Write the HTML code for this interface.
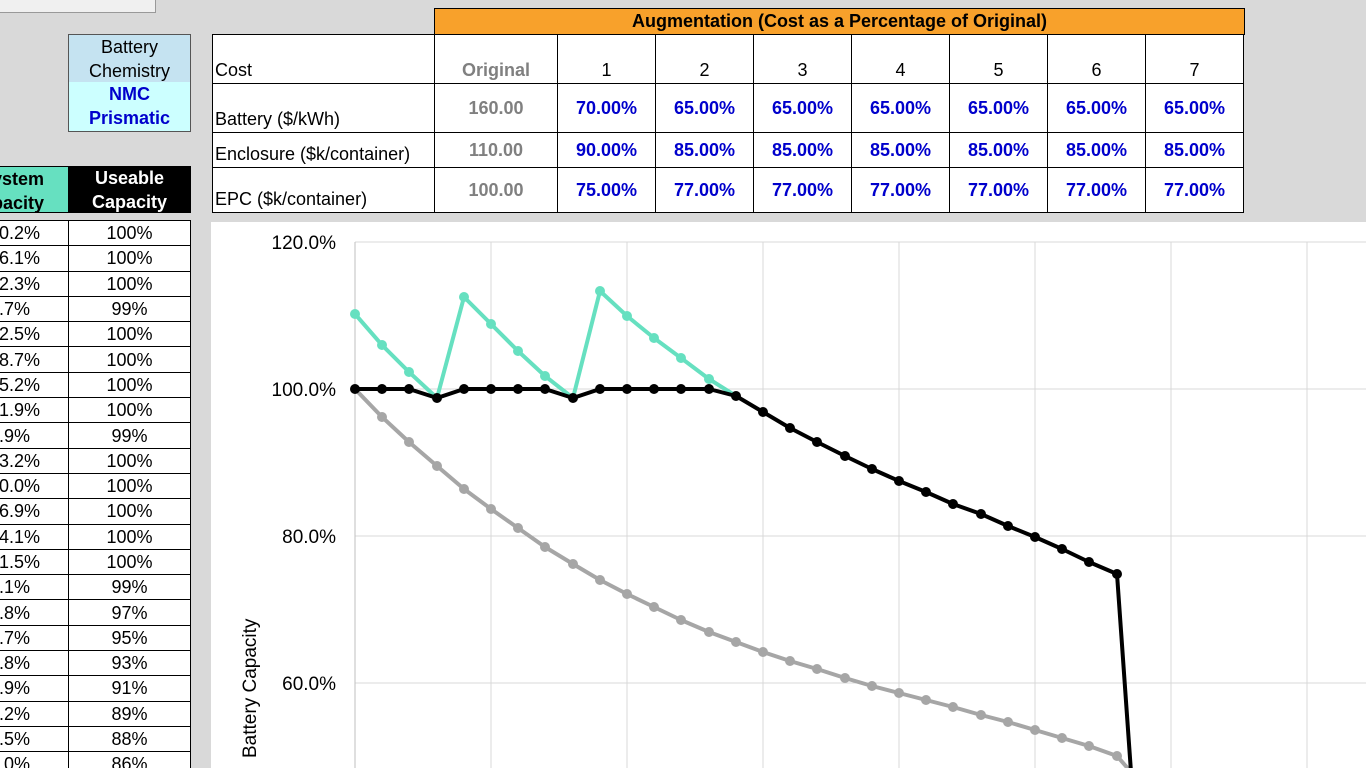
<!DOCTYPE html>
<html><head><meta charset="utf-8"><style>
html,body{margin:0;width:1366px;height:768px;overflow:hidden;}
body{background:#d9d9d9;position:relative;font-family:"Liberation Sans",Arial,sans-serif;}
.a{position:absolute;box-sizing:border-box;}
table{border-collapse:collapse;position:absolute;}
#lt{left:-2px;top:220px;background:#fff;}
#lt td{border:1px solid #000;height:24.3px;padding:0;font-size:18px;line-height:20px;}
#lt td.c1{width:69px;text-align:left;}
#lt td.c2{width:121px;text-align:center;}
#tt{left:212px;top:34px;background:#fff;table-layout:fixed;width:1032px;}
#tt td{border:1px solid #000;padding:0 0 2px 2px;font-size:18px;vertical-align:bottom;overflow:hidden;white-space:nowrap;}
#tt td.n{text-align:center;color:#0000cc;font-weight:bold;vertical-align:middle;padding:0;}
#tt td.o{text-align:center;color:#808080;font-weight:bold;vertical-align:middle;padding:0;}
</style></head><body>
<div class="a" style="left:-2px;top:-2px;width:158px;height:15px;background:#f0f0f0;border:1px solid #999;"></div>
<div class="a" style="left:68px;top:34px;width:123px;height:49px;background:#c5e3f1;border:1px solid #555;text-align:center;font-size:18px;line-height:24px;">Battery<br>Chemistry</div>
<div class="a" style="left:68px;top:82px;width:123px;height:50px;background:#ccffff;border:1px solid #555;border-top:none;text-align:center;font-size:18px;line-height:24px;color:#0000cc;font-weight:bold;">NMC<br>Prismatic</div>
<div class="a" style="left:-60px;top:166px;width:129px;height:47px;background:#66e0c0;border:1px solid #000;text-align:right;font-size:18px;font-weight:bold;line-height:24px;padding-right:24px;">System<br>Capacity</div>
<div class="a" style="left:68px;top:166px;width:123px;height:47px;background:#000;color:#fff;text-align:center;font-size:18px;font-weight:bold;line-height:24px;">Useable<br>Capacity</div>
<table id="lt">
<tr><td class="c1">0.2%</td><td class="c2">100%</td></tr>
<tr><td class="c1">6.1%</td><td class="c2">100%</td></tr>
<tr><td class="c1">2.3%</td><td class="c2">100%</td></tr>
<tr><td class="c1">.7%</td><td class="c2">99%</td></tr>
<tr><td class="c1">2.5%</td><td class="c2">100%</td></tr>
<tr><td class="c1">8.7%</td><td class="c2">100%</td></tr>
<tr><td class="c1">5.2%</td><td class="c2">100%</td></tr>
<tr><td class="c1">1.9%</td><td class="c2">100%</td></tr>
<tr><td class="c1">.9%</td><td class="c2">99%</td></tr>
<tr><td class="c1">3.2%</td><td class="c2">100%</td></tr>
<tr><td class="c1">0.0%</td><td class="c2">100%</td></tr>
<tr><td class="c1">6.9%</td><td class="c2">100%</td></tr>
<tr><td class="c1">4.1%</td><td class="c2">100%</td></tr>
<tr><td class="c1">1.5%</td><td class="c2">100%</td></tr>
<tr><td class="c1">.1%</td><td class="c2">99%</td></tr>
<tr><td class="c1">.8%</td><td class="c2">97%</td></tr>
<tr><td class="c1">.7%</td><td class="c2">95%</td></tr>
<tr><td class="c1">.8%</td><td class="c2">93%</td></tr>
<tr><td class="c1">.9%</td><td class="c2">91%</td></tr>
<tr><td class="c1">.2%</td><td class="c2">89%</td></tr>
<tr><td class="c1">.5%</td><td class="c2">88%</td></tr>
<tr><td class="c1">.0%</td><td class="c2">86%</td></tr>
</table>
<div class="a" style="left:434px;top:8px;width:811px;height:27px;background:#f8a12b;border:1px solid #000;text-align:center;font-weight:bold;font-size:18px;line-height:25px;">Augmentation (Cost as a Percentage of Original)</div>
<table id="tt">
<colgroup><col style="width:222px"><col style="width:123px"><col style="width:98px"><col style="width:98px"><col style="width:98px"><col style="width:98px"><col style="width:98px"><col style="width:98px"><col style="width:98px"></colgroup>
<tr style="height:49px"><td>Cost</td><td class="o" style="vertical-align:bottom;padding-bottom:2px">Original</td><td class="n" style="color:#000;font-weight:normal;vertical-align:bottom;padding-bottom:2px">1</td><td class="n" style="color:#000;font-weight:normal;vertical-align:bottom;padding-bottom:2px">2</td><td class="n" style="color:#000;font-weight:normal;vertical-align:bottom;padding-bottom:2px">3</td><td class="n" style="color:#000;font-weight:normal;vertical-align:bottom;padding-bottom:2px">4</td><td class="n" style="color:#000;font-weight:normal;vertical-align:bottom;padding-bottom:2px">5</td><td class="n" style="color:#000;font-weight:normal;vertical-align:bottom;padding-bottom:2px">6</td><td class="n" style="color:#000;font-weight:normal;vertical-align:bottom;padding-bottom:2px">7</td></tr>
<tr style="height:49px"><td>Battery ($/kWh)</td><td class="o">160.00</td><td class="n">70.00%</td><td class="n">65.00%</td><td class="n">65.00%</td><td class="n">65.00%</td><td class="n">65.00%</td><td class="n">65.00%</td><td class="n">65.00%</td></tr>
<tr style="height:35px"><td>Enclosure ($k/container)</td><td class="o">110.00</td><td class="n">90.00%</td><td class="n">85.00%</td><td class="n">85.00%</td><td class="n">85.00%</td><td class="n">85.00%</td><td class="n">85.00%</td><td class="n">85.00%</td></tr>
<tr style="height:45px"><td>EPC ($k/container)</td><td class="o">100.00</td><td class="n">75.00%</td><td class="n">77.00%</td><td class="n">77.00%</td><td class="n">77.00%</td><td class="n">77.00%</td><td class="n">77.00%</td><td class="n">77.00%</td></tr>
</table>
<svg class="a" style="left:0;top:0" width="1366" height="768">
<rect x="211" y="222" width="1155" height="546" fill="#fff"/>
<g stroke="#d9d9d9" stroke-width="1">
<line x1="355" y1="242" x2="1366" y2="242"/><line x1="355" y1="389" x2="1366" y2="389"/><line x1="355" y1="536" x2="1366" y2="536"/><line x1="355" y1="683" x2="1366" y2="683"/>
<line x1="491" y1="242" x2="491" y2="768"/><line x1="627" y1="242" x2="627" y2="768"/><line x1="763" y1="242" x2="763" y2="768"/><line x1="899" y1="242" x2="899" y2="768"/><line x1="1035" y1="242" x2="1035" y2="768"/><line x1="1171" y1="242" x2="1171" y2="768"/><line x1="1307" y1="242" x2="1307" y2="768"/>
</g>
<line x1="355" y1="242" x2="355" y2="768" stroke="#bfbfbf"/>
<g font-size="19" text-anchor="end" fill="#000">
<text x="336" y="249">120.0%</text><text x="336" y="396">100.0%</text><text x="336" y="543">80.0%</text><text x="336" y="690">60.0%</text>
</g>
<text transform="translate(256,758) rotate(-90)" font-size="19">Battery Capacity</text>
<g fill="none" stroke-width="4" stroke-linejoin="round">
<polyline stroke="#a6a6a6" points="355,389 382,417 409,442 437,466 464,489 491,509 518,528 545,547 573,564 600,580 627,594 654,607 681,620 709,632 736,642 763,652 790,661 817,669 845,678 872,686 899,693 926,700 953,707 981,715 1008,722 1035,730 1062,738 1089,746 1117,756 1131,772"/>
<polyline stroke="#66e0c0" points="355,314 382,345 409,372 437,398 464,297 491,324 518,351 545,376 573,398 600,291 627,316 654,338 681,358 709,379 736,396"/>
<polyline stroke="#000" points="355,389 382,389 409,389 437,398 464,389 491,389 518,389 545,389 573,398 600,389 627,389 654,389 681,389 709,389 736,396 763,412 790,428 817,442 845,456 872,469 899,481 926,492 953,504 981,514 1008,526 1035,537 1062,549 1089,562 1117,574 1131,772"/>
</g>
<g fill="#a6a6a6">
<circle cx="382" cy="417" r="5"/><circle cx="409" cy="442" r="5"/><circle cx="437" cy="466" r="5"/><circle cx="464" cy="489" r="5"/><circle cx="491" cy="509" r="5"/><circle cx="518" cy="528" r="5"/><circle cx="545" cy="547" r="5"/><circle cx="573" cy="564" r="5"/><circle cx="600" cy="580" r="5"/><circle cx="627" cy="594" r="5"/><circle cx="654" cy="607" r="5"/><circle cx="681" cy="620" r="5"/><circle cx="709" cy="632" r="5"/><circle cx="736" cy="642" r="5"/><circle cx="763" cy="652" r="5"/><circle cx="790" cy="661" r="5"/><circle cx="817" cy="669" r="5"/><circle cx="845" cy="678" r="5"/><circle cx="872" cy="686" r="5"/><circle cx="899" cy="693" r="5"/><circle cx="926" cy="700" r="5"/><circle cx="953" cy="707" r="5"/><circle cx="981" cy="715" r="5"/><circle cx="1008" cy="722" r="5"/><circle cx="1035" cy="730" r="5"/><circle cx="1062" cy="738" r="5"/><circle cx="1089" cy="746" r="5"/><circle cx="1117" cy="756" r="5"/>
</g>
<g fill="#66e0c0">
<circle cx="355" cy="314" r="5"/><circle cx="382" cy="345" r="5"/><circle cx="409" cy="372" r="5"/><circle cx="464" cy="297" r="5"/><circle cx="491" cy="324" r="5"/><circle cx="518" cy="351" r="5"/><circle cx="545" cy="376" r="5"/><circle cx="600" cy="291" r="5"/><circle cx="627" cy="316" r="5"/><circle cx="654" cy="338" r="5"/><circle cx="681" cy="358" r="5"/><circle cx="709" cy="379" r="5"/>
</g>
<g fill="#000">
<circle cx="355" cy="389" r="5"/><circle cx="382" cy="389" r="5"/><circle cx="409" cy="389" r="5"/><circle cx="437" cy="398" r="5"/><circle cx="464" cy="389" r="5"/><circle cx="491" cy="389" r="5"/><circle cx="518" cy="389" r="5"/><circle cx="545" cy="389" r="5"/><circle cx="573" cy="398" r="5"/><circle cx="600" cy="389" r="5"/><circle cx="627" cy="389" r="5"/><circle cx="654" cy="389" r="5"/><circle cx="681" cy="389" r="5"/><circle cx="709" cy="389" r="5"/><circle cx="736" cy="396" r="5"/><circle cx="763" cy="412" r="5"/><circle cx="790" cy="428" r="5"/><circle cx="817" cy="442" r="5"/><circle cx="845" cy="456" r="5"/><circle cx="872" cy="469" r="5"/><circle cx="899" cy="481" r="5"/><circle cx="926" cy="492" r="5"/><circle cx="953" cy="504" r="5"/><circle cx="981" cy="514" r="5"/><circle cx="1008" cy="526" r="5"/><circle cx="1035" cy="537" r="5"/><circle cx="1062" cy="549" r="5"/><circle cx="1089" cy="562" r="5"/><circle cx="1117" cy="574" r="5"/>
</g>
</svg>
</body></html>
